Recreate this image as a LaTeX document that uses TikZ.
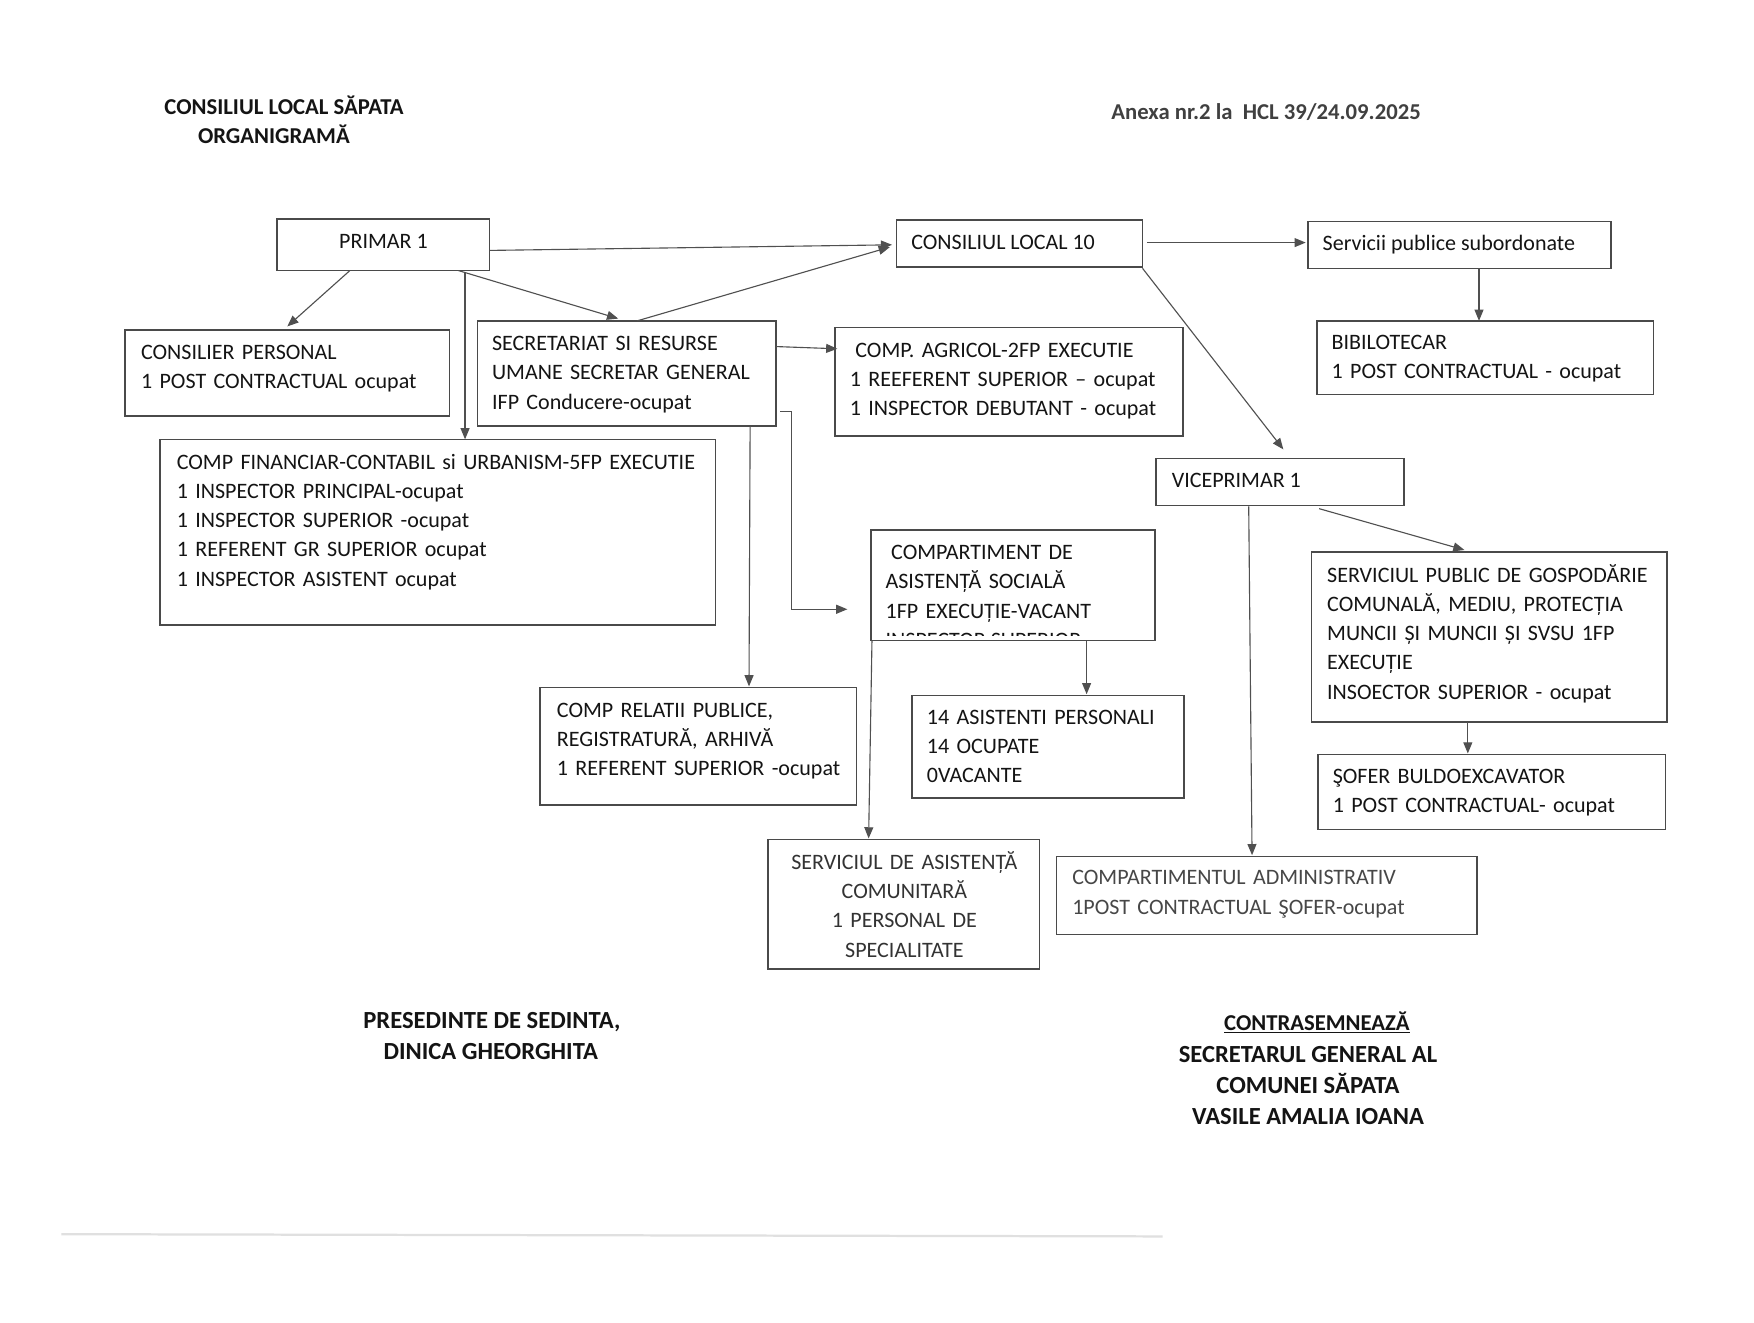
\documentclass[tikz,border=0pt]{standalone}
\usepackage{fontspec}
\setmainfont{Carlito}
\usetikzlibrary{arrows.meta,calc}
\definecolor{txtcol}{HTML}{141414}
\definecolor{linecol}{HTML}{4A4A4A}
\definecolor{arrcol}{HTML}{505050}
\newcommand\boxfont{\fontsize{19.7}{26.2}\selectfont}
\newcommand\ttlfont{\bfseries\fontsize{20.3}{24}\selectfont}
\newcommand\sigfont{\bfseries\fontsize{22}{26}\selectfont}
\tikzset{
  obox/.style={draw=linecol, line width=1.4pt, anchor=north west, inner sep=0pt, outer sep=0pt},
  txt/.style={anchor=north west, inner sep=0pt, align=left, font=\boxfont, text=txtcol},
  onetxt/.style={anchor=base west, inner sep=0pt, font=\boxfont, text=txtcol},
  ttl/.style={anchor=base, inner sep=0pt, font=\ttlfont, text=txtcol},
  sig/.style={anchor=base, inner sep=0pt, font=\sigfont, text=txtcol},
  arr/.style={draw=arrcol, line width=1pt, -{Triangle[length=10pt,width=8pt]}},
}
\begin{document}
\begin{tikzpicture}[x=1pt,y=-1pt]
\fill[white] (0,0) rectangle (1569,1183);
\useasboundingbox (0,0) rectangle (1569,1183);

% titles
\node[ttl] (t1) at (254,102.5) {CONSILIUL LOCAL SĂPATA};
\node[ttl] (t2) at (245,128.5) {ORGANIGRAMĂ};
\node[anchor=base west, inner sep=0pt, font=\ttlfont, text=black!75] (anexa) at (994,106.5) {Anexa nr.2 la\ \ HCL 39/24.09.2025};

% boxes
\node[obox, minimum width=190pt, minimum height=46pt] (primar) at (248,196) {};
\node[obox, minimum width=220pt, minimum height=42pt] (consiliul) at (802,197) {};
\node[obox, minimum width=271pt, minimum height=42pt] (servicii) at (1170,198) {};
\node[obox, minimum width=290pt, minimum height=77pt] (consilier) at (112,295) {};
\node[obox, minimum width=267pt, minimum height=94pt] (secretariat) at (427,287) {};
\node[obox, minimum width=311pt, minimum height=97pt] (agricol) at (747,293) {};
\node[obox, minimum width=301pt, minimum height=66pt] (biblio) at (1178,287) {};
\node[obox, minimum width=497pt, minimum height=166pt] (financiar) at (143,393) {};
\node[obox, minimum width=222pt, minimum height=42pt] (vice) at (1034,410) {};
\node[obox, minimum width=254pt, minimum height=99pt] (asoc) at (779,474) {};
\node[obox, minimum width=283pt, minimum height=105pt] (relatii) at (483,615) {};
\node[obox, minimum width=243pt, minimum height=92pt] (asist) at (816,622) {};
\node[obox, minimum width=318pt, minimum height=152pt] (gosp) at (1173,494) {};
\node[obox, minimum width=311pt, minimum height=67pt] (sofer) at (1179,675) {};
\node[obox, minimum width=243pt, minimum height=116pt] (comun) at (687,751) {};
\node[obox, minimum width=376pt, minimum height=70pt] (admin) at (945,766) {};

% box texts
\node[onetxt, anchor=base] (tprimar) at (343,222.5) {PRIMAR 1};
\node[onetxt] (tconsiliul) at (815,223.5) {CONSILIUL LOCAL 10};
\node[onetxt] (tservicii) at (1183,224.5) {Servicii publice subordonate};
\node[txt, text width=270pt] (tconsilier) at (126,303.1) {\strut CONSILIER PERSONAL\\1 POST CONTRACTUAL ocupat};
\node[txt, text width=250pt] (tsecretariat) at (440,295.1) {\strut SECRETARIAT SI RESURSE\\UMANE SECRETAR GENERAL\\IFP Conducere-ocupat};
\node[txt, text width=292pt] (tagricol) at (760,301.1) {\strut\hspace*{5pt}COMP. AGRICOL-2FP EXECUTIE\\1 REEFERENT SUPERIOR – ocupat\\1 INSPECTOR DEBUTANT - ocupat};
\node[txt, text width=285pt] (tbiblio) at (1191,294.1) {\strut BIBILOTECAR\\1 POST CONTRACTUAL - ocupat};
\node[txt, text width=478pt] (tfinanciar) at (158,401.1) {\strut COMP FINANCIAR-CONTABIL si URBANISM-5FP EXECUTIE\\1 INSPECTOR PRINCIPAL-ocupat\\1 INSPECTOR SUPERIOR -ocupat\\1 REFERENT GR SUPERIOR ocupat\\1 INSPECTOR ASISTENT ocupat};
\node[onetxt] (tvice) at (1048,436.5) {VICEPRIMAR 1};
\node[txt, text width=238pt] (tasoc) at (792,482.1) {\strut\hspace*{5pt}COMPARTIMENT DE\\ASISTENȚĂ SOCIALĂ\\1FP EXECUȚIE-VACANT};
\begin{scope}
  \clip (780,560) rectangle (1032,568.5);
  \node[onetxt] (tasoc4) at (792,579) {INSPECTOR SUPERIOR};
\end{scope}
\node[txt, text width=265pt] (trelatii) at (498,623.1) {\strut COMP RELATII PUBLICE,\\REGISTRATURĂ, ARHIVĂ\\1 REFERENT SUPERIOR -ocupat};
\node[txt, text width=228pt] (tasist) at (829,629.1) {\strut 14 ASISTENTI PERSONALI\\14 OCUPATE\\0VACANTE};
\node[txt, text width=300pt] (tgosp) at (1187,502.1) {\strut SERVICIUL PUBLIC DE GOSPODĂRIE\\COMUNALĂ, MEDIU, PROTECȚIA\\MUNCII ȘI MUNCII ȘI SVSU 1FP\\EXECUȚIE\\INSOECTOR SUPERIOR - ocupat};
\node[txt, text width=295pt] (tsofer) at (1192,682.1) {\strut ŞOFER BULDOEXCAVATOR\\1 POST CONTRACTUAL- ocupat};
\node[txt, anchor=north, align=center, text width=240pt, text=black!80] (tcomun) at (809,759.1) {\strut SERVICIUL DE ASISTENȚĂ\\COMUNITARĂ\\1 PERSONAL DE\\SPECIALITATE};
\node[txt, text width=355pt, text=black!72] (tadmin) at (959,773.1) {\strut COMPARTIMENTUL ADMINISTRATIV\\1POST CONTRACTUAL ŞOFER-ocupat};

% connectors
\draw[arr] ($(primar.east)+(0,5)$) -- ($(consiliul.west)+(-4,1)$);
\draw[arr] ($(primar.south west)+(65,0)$) -- ($(consilier.north west)+(145,-3)$);
\draw[arr] ($(primar.south east)+(-28,0)$) -- ($(secretariat.north west)+(126,-2)$);
\draw[arr] ($(primar.south west)+(168,2)$) -- ($(financiar.north west)+(273,0)$);
\draw[arr] ($(secretariat.north west)+(143,0)$) -- ($(consiliul.west)+(-6,3)$);
\draw[arr] ($(secretariat.north east)+(0,23)$) -- ($(agricol.north west)+(2,19)$);
\draw[arr] ($(secretariat.south east)+(4,-13)$) -- ++(10,0) |- ($(asoc.south west)+(-21,-28)$);
\draw[arr] ($(secretariat.south west)+(244,0)$) -- ($(relatii.north west)+(187,-1)$);
\draw[arr] ($(consiliul.south east)+(0,1)$) -- ($(vice.north west)+(114,-8)$);
\draw[arr] ($(consiliul.east)+(4,-1)$) -- ($(servicii.west)+(-2,-2)$);
\draw[arr] ($(servicii.south west)+(153,0)$) -- ($(biblio.north west)+(145,0)$);
\draw[arr] ($(vice.south west)+(146,3)$) -- ($(gosp.north west)+(137,-2)$);
\draw[arr] ($(vice.south west)+(83,1)$) -- ($(admin.north west)+(175,-1)$);
\draw[arr] ($(gosp.south west)+(140,0)$) -- ($(sofer.north west)+(134,-1)$);
\draw[arr] ($(asoc.south west)+(193,0)$) -- ($(asist.north west)+(156,-1)$);
\draw[arr] ($(asoc.south west)+(1,0)$) -- ($(comun.north west)+(90,-1)$);

% signatures
\node[sig] (s1) at (440,920) {PRESEDINTE DE SEDINTA,};
\node[sig] (s2) at (439,948) {DINICA GHEORGHITA};
\node[sig, font=\ttlfont] (c1) at (1178,922) {\underline{CONTRASEMNEAZĂ}};
\node[sig] (c2) at (1170,950) {SECRETARUL GENERAL AL};
\node[sig] (c3) at (1170,978) {COMUNEI SĂPATA};
\node[sig] (c4) at (1170,1006) {VASILE AMALIA IOANA};

% faint scan line
\coordinate (fl1) at (55,1104);
\coordinate (fl2) at (1040,1106);
\draw[black!12, line width=2pt] (fl1) -- (fl2);
\end{tikzpicture}
\end{document}
